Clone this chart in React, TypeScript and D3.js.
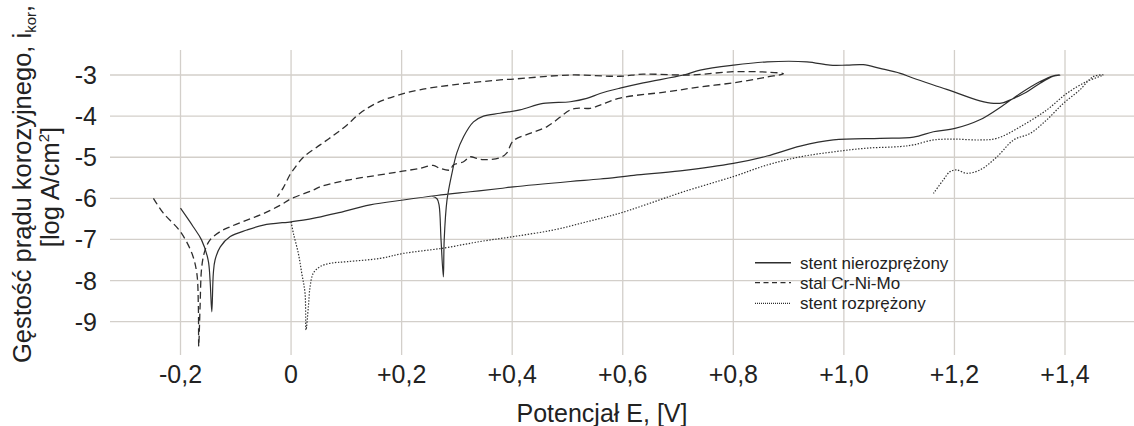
import React from "react";
import * as d3 from "d3";

const xTicks = [-0.2, 0, 0.2, 0.4, 0.6, 0.8, 1.0, 1.2, 1.4];
const xTickLabels = ["-0,2", "0", "+0,2", "+0,4", "+0,6", "+0,8", "+1,0", "+1,2", "+1,4"];
const yTicks = [-3, -4, -5, -6, -7, -8, -9];
const yTickLabels = ["-3", "-4", "-5", "-6", "-7", "-8", "-9"];

// stent nierozprężony (solid) [E, log i]
const stentUnexpanded: [number, number][] = [
  [-0.200, -6.24], [-0.177, -6.69], [-0.162, -7.01], [-0.150, -7.50], [-0.1465, -7.99], [-0.1434, -8.76],
  [-0.1406, -7.82], [-0.1375, -7.50], [-0.128, -7.18], [-0.110, -6.93], [-0.080, -6.77], [-0.050, -6.65],
  [0.0, -6.57], [0.022, -6.53], [0.046, -6.47], [0.0827, -6.36], [0.143, -6.16], [0.203, -6.04],
  [0.2636, -5.93], [0.324, -5.84], [0.378, -5.76], [0.402, -5.72], [0.505, -5.59], [0.559, -5.53],
  [0.62, -5.44], [0.704, -5.33], [0.800, -5.15], [0.861, -4.97], [0.921, -4.73], [0.981, -4.58],
  [1.0655, -4.54], [1.126, -4.51], [1.162, -4.38], [1.201, -4.30], [1.246, -4.09], [1.289, -3.73],
  [1.319, -3.45], [1.355, -3.16], [1.379, -3.02], [1.391, -3.0],
  [1.379, -3.03], [1.355, -3.2], [1.33, -3.42], [1.307, -3.57], [1.289, -3.67], [1.271, -3.69],
  [1.246, -3.63], [1.186, -3.35], [1.126, -3.08], [1.102, -2.96], [1.0655, -2.84], [1.035, -2.75],
  [1.005, -2.76], [0.975, -2.76], [0.933, -2.68], [0.861, -2.68], [0.800, -2.76], [0.740, -2.88],
  [0.710, -3.0], [0.637, -3.19], [0.595, -3.32], [0.559, -3.45], [0.535, -3.57], [0.505, -3.65],
  [0.456, -3.69], [0.414, -3.85], [0.378, -3.93], [0.348, -4.0], [0.330, -4.14], [0.312, -4.50],
  [0.2997, -4.90], [0.291, -5.39], [0.282, -6.05], [0.277, -7.01], [0.2755, -7.91], [0.2713, -7.01],
  [0.2677, -6.16], [0.264, -6.01], [0.255, -5.95],
];

// stal Cr-Ni-Mo (dashed)
const steelCrNiMo: [number, number][] = [
  [-0.249, -6.0], [-0.231, -6.36], [-0.2008, -6.80], [-0.1796, -7.33], [-0.1706, -7.81], [-0.1677, -8.62],
  [-0.167, -9.6], [-0.1646, -8.63], [-0.1615, -7.66], [-0.1556, -7.26], [-0.1465, -7.01], [-0.1284, -6.81],
  [-0.110, -6.69], [-0.080, -6.53], [-0.050, -6.37], [-0.020, -6.17], [0.0, -6.01], [0.040, -5.80],
  [0.0525, -5.72], [0.1008, -5.56], [0.155, -5.44], [0.197, -5.35], [0.233, -5.27], [0.257, -5.20],
  [0.2695, -5.27], [0.2876, -5.31], [0.2936, -5.19], [0.312, -5.11], [0.324, -4.99], [0.336, -5.03],
  [0.348, -5.06], [0.378, -5.01], [0.39, -4.9], [0.402, -4.6], [0.432, -4.42], [0.4625, -4.26],
  [0.505, -3.85], [0.517, -3.81], [0.541, -3.81], [0.559, -3.73], [0.595, -3.56], [0.6796, -3.41],
  [0.740, -3.29], [0.800, -3.19], [0.861, -3.05], [0.8906, -2.97],
  [0.861, -2.93], [0.800, -2.92], [0.722, -3.0], [0.637, -2.98], [0.595, -3.03], [0.505, -3.0],
  [0.402, -3.10], [0.378, -3.12], [0.293, -3.24], [0.233, -3.36], [0.191, -3.50], [0.155, -3.68],
  [0.1248, -3.93], [0.1008, -4.22], [0.0766, -4.47], [0.0525, -4.70], [0.0222, -5.0], [0.004, -5.31],
  [-0.0018, -5.42], [-0.0139, -5.74], [-0.025, -5.96],
];

// stent rozprężony (dotted)
const stentExpanded: [number, number][] = [
  [0.0, -6.57], [0.0042, -6.85], [0.0132, -7.34], [0.0193, -7.82], [0.0253, -8.31], [0.0271, -9.2],
  [0.0313, -8.63], [0.0344, -8.15], [0.0403, -7.82], [0.0525, -7.66], [0.0706, -7.58], [0.1008, -7.54],
  [0.161, -7.46], [0.203, -7.34], [0.2755, -7.21], [0.342, -7.05], [0.402, -6.93], [0.4745, -6.77],
  [0.535, -6.57], [0.595, -6.36], [0.649, -6.12], [0.7097, -5.84], [0.800, -5.47], [0.861, -5.19],
  [0.921, -4.99], [0.981, -4.87], [1.041, -4.78], [1.102, -4.74], [1.126, -4.70], [1.162, -4.58],
  [1.201, -4.56], [1.246, -4.58], [1.277, -4.54], [1.319, -4.26], [1.367, -3.85], [1.403, -3.45],
  [1.439, -3.16], [1.469, -3.0],
  [1.451, -3.04], [1.427, -3.36], [1.397, -3.69], [1.367, -4.09], [1.337, -4.42], [1.307, -4.58],
  [1.277, -4.99], [1.246, -5.31], [1.222, -5.39], [1.204, -5.31], [1.192, -5.35], [1.180, -5.55],
  [1.162, -5.88],
];

const legendLabels = ["stent nierozprężony", "stal Cr-Ni-Mo", "stent rozprężony"];

const W = 1134;
const H = 426;
const FONT = "Arial, 'Liberation Sans', Helvetica, sans-serif";
const GRID = "#d3cfca";
const INK = "#2e2e2e";

export default function App() {
  const x = d3.scaleLinear().domain([-0.2, 1.4]).range([180.5, 1065]);
  const y = d3.scaleLinear().domain([-3, -9]).range([75, 321.7]);
  const line = d3
    .line<[number, number]>()
    .x((d) => x(d[0]))
    .y((d) => y(d[1]))
    .curve(d3.curveCatmullRom.alpha(0.5));

  const series = [
    { data: stentUnexpanded, dash: null as string | null, width: 1.2 },
    { data: steelCrNiMo, dash: "7,4", width: 1.3 },
    { data: stentExpanded, dash: "1.4,1.6", width: 1.2 },
  ];

  const legendY = [262.7, 282.7, 303.3];

  return (
    <svg
      width={W}
      height={H}
      style={{ position: "absolute", left: 0, top: 0, background: "#fff" }}
      fontFamily={FONT}
    >
      <rect x={0} y={0} width={W} height={H} fill="#fff" />
      {/* grid */}
      {yTicks.map((t) => (
        <line key={"h" + t} x1={110} x2={W} y1={y(t)} y2={y(t)} stroke={GRID} strokeWidth={1.3} />
      ))}
      {xTicks.map((t) => (
        <line key={"v" + t} x1={x(t)} x2={x(t)} y1={50} y2={355} stroke={GRID} strokeWidth={1.3} />
      ))}
      {/* y tick labels */}
      {yTicks.map((t, i) => (
        <text key={"yl" + t} x={97} y={y(t)} dy="0.36em" textAnchor="end" fontSize={25} fill="#222">
          {yTickLabels[i]}
        </text>
      ))}
      {/* x tick labels */}
      {xTicks.map((t, i) => (
        <text key={"xl" + t} x={x(t)} y={383.3} textAnchor="middle" fontSize={25} fill="#222">
          {xTickLabels[i]}
        </text>
      ))}
      {/* x title */}
      <text x={602} y={421.5} textAnchor="middle" fontSize={25} fill="#222">
        Potencjał E, [V]
      </text>
      {/* y title */}
      <text transform="translate(31,184) rotate(-90)" textAnchor="middle" fontSize={25.5} fill="#222">
        Gęstość prądu korozyjnego, i
        <tspan fontSize={15} dy={5}>kor</tspan>
        <tspan dy={-5}>,</tspan>
      </text>
      <text transform="translate(59,187) rotate(-90)" textAnchor="middle" fontSize={25.5} fill="#222">
        [log A/cm
        <tspan fontSize={15} dy={-10}>2</tspan>
        <tspan dy={10}>]</tspan>
      </text>
      {/* curves */}
      {series.map((s, i) => (
        <path
          key={"s" + i}
          d={line(s.data) || ""}
          fill="none"
          stroke={INK}
          strokeWidth={s.width}
          strokeDasharray={s.dash || undefined}
          strokeLinejoin="round"
        />
      ))}
      {/* legend */}
      {series.map((s, i) => (
        <g key={"lg" + i}>
          <line
            x1={755}
            x2={791}
            y1={legendY[i]}
            y2={legendY[i]}
            stroke={INK}
            strokeWidth={i === 0 ? 1.6 : 1.2}
            strokeDasharray={i === 1 ? "5,3.5" : i === 2 ? "1,1" : undefined}
          />
          <text x={800} y={legendY[i]} dy="0.35em" fontSize={17} fill="#222">
            {legendLabels[i]}
          </text>
        </g>
      ))}
    </svg>
  );
}
